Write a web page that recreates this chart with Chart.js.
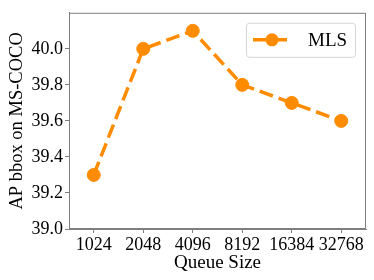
<!DOCTYPE html>
<html>
<head>
<meta charset="utf-8">
<script src="https://cdn.jsdelivr.net/npm/chart.js@4"></script>
<style>
  html, body { margin: 0; padding: 0; background: #fff; }
  #wrap { width: 374px; height: 280px; }
</style>
</head>
<body>
<div id="wrap"><canvas id="queueChart" width="374" height="280"></canvas></div>
<script>
// Data
const queueSizes = ['1024', '2048', '4096', '8192', '16384', '32768'];
const mlsAP = [39.3, 40.0, 40.1, 39.8, 39.7, 39.6];
const yTicks = [39.0, 39.2, 39.4, 39.6, 39.8, 40.0];

const orange = '#ff8c00';
const spine = '#7f7f7f';
const serif = "'Liberation Serif', 'DejaVu Serif', serif";

// full box around the plot area
const frame = {
    id: 'frame',
    afterDraw(chart) {
        const { ctx, chartArea: a } = chart;
        ctx.save();
        ctx.strokeStyle = spine;
        ctx.lineWidth = 1;
        ctx.strokeRect(a.left + 0.5, a.top + 0.5, a.right - a.left - 1, a.bottom - a.top - 1);
        ctx.restore();
    }
};

// matplotlib-style legend in the upper right corner
const boxLegend = {
    id: 'boxLegend',
    afterDraw(chart) {
        const { ctx, chartArea: a } = chart;
        const ds = chart.data.datasets[0];
        const w = 109, h = 34;
        const x = a.right - 11 - w, y = a.top + 10;
        ctx.save();
        ctx.beginPath();
        ctx.roundRect(x + 0.5, y + 0.5, w, h, 3);
        ctx.fillStyle = 'rgba(255,255,255,0.8)';
        ctx.fill();
        ctx.strokeStyle = '#d6d6d6';
        ctx.lineWidth = 1;
        ctx.stroke();
        const cy = y + h / 2;
        ctx.strokeStyle = ds.borderColor;
        ctx.lineWidth = ds.borderWidth;
        ctx.setLineDash(ds.borderDash);
        ctx.beginPath();
        ctx.moveTo(x + 7, cy);
        ctx.lineTo(x + 45, cy);
        ctx.stroke();
        ctx.setLineDash([]);
        ctx.beginPath();
        ctx.arc(x + 26, cy, ds.pointRadius, 0, Math.PI * 2);
        ctx.fillStyle = ds.pointBackgroundColor;
        ctx.fill();
        ctx.fillStyle = '#000';
        ctx.font = '19px ' + serif;
        ctx.textBaseline = 'middle';
        ctx.fillText(ds.label, x + 62, cy + 1);
        ctx.restore();
    }
};

new Chart(document.getElementById('queueChart'), {
    type: 'line',
    data: {
        labels: queueSizes,
        datasets: [{
            label: 'MLS',
            data: mlsAP,
            borderColor: orange,
            backgroundColor: orange,
            borderWidth: 3.5,
            borderDash: [14, 6],
            pointRadius: 6.5,
            pointHoverRadius: 6.5,
            pointBackgroundColor: orange,
            pointBorderColor: orange,
            pointBorderWidth: 1,
            fill: false,
            tension: 0
        }]
    },
    options: {
        responsive: false,
        animation: false,
        layout: { padding: { top: 8, right: 8, left: 0, bottom: 0 } },
        plugins: {
            legend: { display: false },
            tooltip: { enabled: false }
        },
        scales: {
            x: {
                offset: true,
                afterFit(scale) { scale.height = 51; },
                grid: { display: true, drawOnChartArea: false, tickLength: 4, color: spine, offset: false },
                border: { display: true, color: spine },
                ticks: { color: '#000', font: { family: serif, size: 18 }, padding: 1, maxRotation: 0, autoSkip: false },
                title: { display: true, text: 'Queue Size', color: '#000', font: { family: serif, size: 19 }, padding: { top: 0, bottom: 6 } }
            },
            y: {
                min: 39.0,
                max: 40.2,
                afterFit(scale) { scale.width = 69; },
                afterBuildTicks(scale) { scale.ticks = yTicks.map(v => ({ value: v })); },
                grid: { display: true, drawOnChartArea: false, tickLength: 4, color: spine },
                border: { display: true, color: spine },
                ticks: { color: '#000', font: { family: serif, size: 18 }, padding: 2, callback: v => v.toFixed(1) },
                title: { display: true, text: 'AP bbox on MS-COCO', color: '#000', font: { family: serif, size: 18.5 }, padding: { top: 6, bottom: 0 } }
            }
        }
    },
    plugins: [frame, boxLegend]
});
</script>
</body>
</html>
